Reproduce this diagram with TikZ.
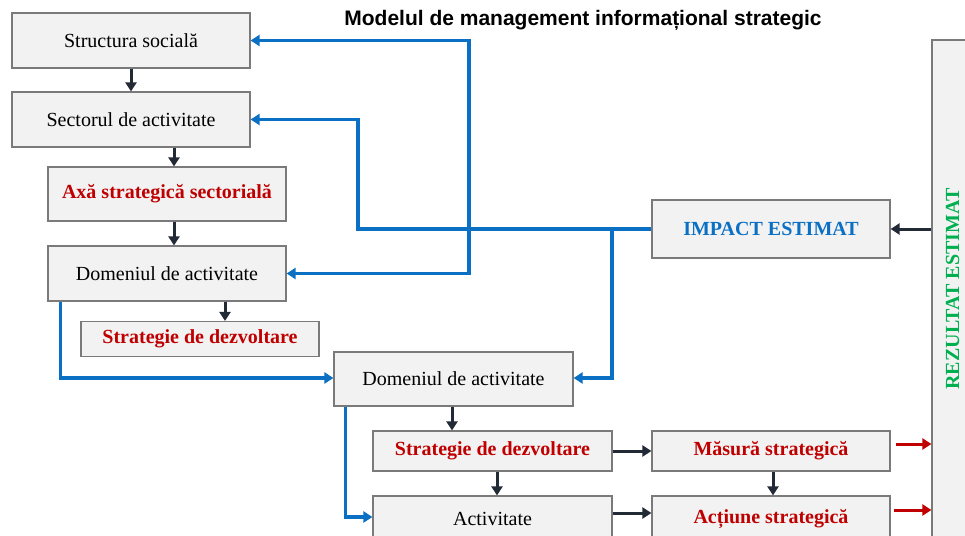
\documentclass[tikz,border=0pt]{standalone}
\usepackage{fontspec}
\setmainfont{Liberation Serif}
\newfontfamily\arialf{Liberation Sans}
\usetikzlibrary{arrows.meta,calc}
\definecolor{boxfill}{HTML}{F2F2F2}
\definecolor{boxline}{HTML}{7A7A7A}
\definecolor{bluec}{HTML}{0A70C4}
\definecolor{redc}{HTML}{C00000}
\definecolor{greenc}{HTML}{00B050}
\definecolor{darkc}{HTML}{222A35}
\begin{document}
\begin{tikzpicture}[x=1pt,y=-1pt,
  box/.style={draw=boxline,line width=1.2pt,fill=boxfill,inner sep=0pt,minimum width=238pt,
    font=\fontsize{20}{22}\selectfont},
  redtxt/.style={text=redc,font=\fontsize{20}{22}\selectfont\bfseries},
  bluetxt/.style={text=bluec,font=\fontsize{20}{22}\selectfont\bfseries},
  darkarrow/.style={draw=darkc,line width=3pt,-{Triangle[width=11pt,length=9pt]}},
  bluearrow/.style={draw=bluec,line width=3.2pt,line join=miter,-{Triangle[width=11pt,length=9pt]}},
  blueline/.style={draw=bluec,line width=3.2pt},
  redarrow/.style={draw=redc,line width=3pt,-{Triangle[width=11pt,length=9pt]}}]
\useasboundingbox (0,0) rectangle (965,535);
\clip (0,0) rectangle (965,535);

\node[font=\arialf\bfseries\fontsize{21}{23}\selectfont,anchor=center] (title) at (583,20) {Modelul de management informațional strategic};

\node[box,minimum height=55pt] (s1) at (131,40.5) {Structura socială};
\node[box,minimum height=55pt] (s2) at (131,119.5) {Sectorul de activitate};
\node[box,minimum height=54pt,redtxt] (ax) at (167,194) {Axă strategică sectorială};
\node[box,minimum height=55pt] (d1) at (167,273.5) {Domeniul de activitate};
\node[box,minimum height=35pt,redtxt] (sd1) at (200,339) {Strategie de dezvoltare};
\node[box,minimum width=239pt,minimum height=54pt] (d2) at (453.5,379) {Domeniul de activitate};
\node[box,minimum width=239pt,minimum height=40pt,redtxt] (sd2) at (492.5,451) {Strategie de dezvoltare};
\node[box,minimum height=40pt,redtxt] (ms) at (771,451) {Măsură strategică};
\node[box,minimum width=239pt,minimum height=45pt] (act) at (492.5,518.5) {Activitate};
\node[box,minimum height=45pt,redtxt] (ac) at (771,518.5) {Acțiune strategică};
\node[box,minimum height=58pt,bluetxt] (imp) at (771,229) {IMPACT ESTIMAT};
\node[box,minimum width=40pt,minimum height=500pt] (rez) at (952,290) {};
\node[rotate=90,text=greenc,font=\fontsize{20}{22}\selectfont\bfseries] (reztxt) at (952.5,289) {REZULTAT ESTIMAT};

% blue connectors
\coordinate (j1) at (358,229);
\coordinate (j2) at (469,229);
\coordinate (j3) at (612,229);
\draw[bluearrow] (imp.west) -- (j1) |- (s2.east);
\draw[bluearrow] (j2) |- (s1.east);
\draw[bluearrow] (j2) |- (d1.east);
\draw[bluearrow] (j3) |- ([yshift=1pt]d2.east);
\draw[bluearrow] ([xshift=13pt]d1.south west) |- ([yshift=1pt]d2.west);
\draw[bluearrow] ([xshift=12pt]d2.south west) |- ([yshift=1.5pt]act.west);

% dark connectors
\draw[darkarrow] (s1) -- (s2);
\draw[darkarrow] ([xshift=7pt]ax.north |- s2.south) -- ([xshift=7pt]ax.north);
\draw[darkarrow] ([xshift=7pt]ax.south) -- ([xshift=7pt]d1.north);
\draw[darkarrow] ([xshift=25pt]sd1.north |- d1.south) -- ([xshift=25pt]sd1.north);
\draw[darkarrow] ([xshift=-1.5pt]d2.south) -- ([xshift=-1.5pt]d2.south |- sd2.north);
\draw[darkarrow] (sd2.east) -- (ms.west);
\draw[darkarrow] ([xshift=4.5pt]sd2.south) -- ([xshift=4.5pt]act.north);
\draw[darkarrow] ([xshift=2pt]ms.south) -- ([xshift=2pt]ac.north);
\draw[darkarrow] ([yshift=5.5pt]act.east) -- ([yshift=5.5pt]ac.west);
\draw[darkarrow] (rez.west |- imp.east) -- (imp.east);

% red connectors
\draw[redarrow] ([xshift=5pt,yshift=7pt]ms.east) -- ([yshift=7pt]rez.west |- ms.east);
\draw[redarrow] ([xshift=3pt,yshift=8.5pt]ac.east) -- ([yshift=8.5pt]rez.west |- ac.east);
\end{tikzpicture}
\end{document}
